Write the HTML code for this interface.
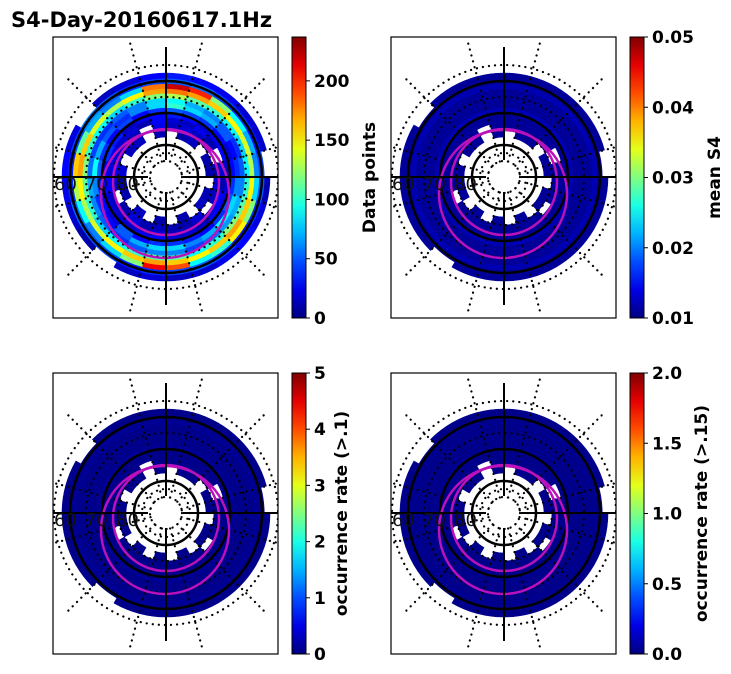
<!DOCTYPE html>
<html><head><meta charset="utf-8">
<style>
html,body{margin:0;padding:0;background:#fff;}
svg{display:block;font-family:"DejaVu Sans","Liberation Sans",sans-serif;}
.tk{font-size:17px;font-weight:bold;fill:#000;}
.cl{font-size:17px;font-weight:bold;fill:#000;}
</style></head>
<body>
<svg id="fig" width="731" height="674" viewBox="0 0 731 674">
<text x="11" y="27" font-size="21" font-weight="bold">S4-Day-20160617.1Hz</text>
</svg>
<script>
// latitude bin edges (degrees), outer to inner rings
const latEdges = [57.5,59.3,61,62.5,64,65.5,67,68.5,70,71.5,73,75,77.5];
// 24 MLT bins per ring: data point counts (null = no data)
const counts0 = [20,15,null,10,18,25,30,22,null,15,20,28,35,30,25,20,18,null,12,22,30,25,18,15];
const counts1 = [40,35,45,50,55,40,35,45,60,50,40,45,50,55,45,40,35,45,50,40,35,45,50,45];
const counts2 = [210,120,80,60,90,130,160,110,70,60,80,180,220,200,120,90,70,60,80,120,150,100,90,190];
const counts3 = [170,160,150,140,130,150,170,160,140,130,150,170,180,170,160,150,140,130,150,160,170,160,150,160];
const counts4 = [110,100,90,80,100,110,120,100,90,80,100,120,130,110,100,90,80,90,100,110,120,100,90,110];
const counts5 = [60,50,40,50,60,70,55,45,40,50,60,80,90,70,60,50,40,50,60,70,65,55,45,60];
const counts6 = [80,70,50,30,40,60,90,70,50,40,60,80,100,80,70,50,30,40,60,80,90,70,60,80];
const counts7 = [40,30,50,20,30,40,50,40,30,45,30,40,50,45,40,30,20,30,40,50,40,30,35,40];
const counts8 = [30,25,15,20,20,30,25,40,35,15,25,30,35,30,20,25,30,15,20,25,30,15,20,20];
const counts9 = [20,10,25,15,15,30,20,25,18,20,10,30,20,15,25,12,null,20,10,30,20,10,15,15];
const counts10 = [15,12,20,10,null,15,25,18,20,14,null,25,15,20,16,10,null,12,20,15,null,20,10,12];
const counts11 = [10,null,15,null,10,12,20,null,14,15,null,12,null,10,15,null,10,10,null,12,15,null,10,null];
const countRings = [counts0,counts1,counts2,counts3,counts4,counts5,counts6,counts7,counts8,counts9,counts10,counts11];
// per-ring mean values for other panels
const meanS4Rings = [0.011,0.011,0.012,0.011,0.011,0.011,0.011,0.012,0.011,0.011,0.011,0.011];
const occ1Rings = [0.05,0.05,0.1,0.05,0.05,0.05,0.05,0.1,0.05,0.05,0.05,0.05];
const occ15Rings = [0.02,0.02,0.03,0.02,0.02,0.02,0.02,0.03,0.02,0.02,0.02,0.02];
// colorbar ticks
const ticks1 = [0,50,100,150,200];
const ticks2 = ["0.01","0.02","0.03","0.04","0.05"];
const ticks3 = [0,1,2,3,4,5];
const ticks4 = ["0.0","0.5","1.0","1.5","2.0"];

const NS="http://www.w3.org/2000/svg";
const fig=document.getElementById('fig');
function el(tag,attrs,parent){const e=document.createElementNS(NS,tag);for(const k in attrs)e.setAttribute(k,attrs[k]);(parent||fig).appendChild(e);return e;}

function jet(t){t=Math.max(0,Math.min(1,t));
  const f=x=>Math.max(0,Math.min(1,x));
  const r=f(1.5-Math.abs(4*t-3)), g=f(1.5-Math.abs(4*t-2)), b=f(1.5-Math.abs(4*t-1));
  return `rgb(${Math.round(r*255)},${Math.round(g*255)},${Math.round(b*255)})`;}

const PXDEG=3.2;
function rOf(lat){return (90-lat)*PXDEG;}
const DOT={stroke:'#000','stroke-width':2.2,'stroke-dasharray':'0.1 6','stroke-linecap':'round',fill:'none'};

function panel(name,bx,by,ringVals,useCounts,vmin,vmax,ticks,cbLabel,labelX){
  const W=225,H=281,cx=bx+113,cy=by+140;
  const g=el('g',{},fig);
  
  
  const cid='clip-'+name;
  const cp=el('clipPath',{id:cid},g);el('rect',{x:bx,y:by,width:W,height:H},cp);
  const inner=el('g',{'clip-path':`url(#${cid})`},g);
  for(let i=0;i<countRings.length;i++){
    const r1=rOf(latEdges[i]), r0=rOf(latEdges[i+1]);
    for(let j=0;j<24;j++){
      const c=countRings[i][j]; if(c===null) continue;
      const v=useCounts?c:ringVals[i];
      const a0=(j/24)*2*Math.PI+Math.PI/2, a1=((j+1)/24)*2*Math.PI+Math.PI/2;
      const p=(r,a)=>`${(cx+r*Math.cos(a)).toFixed(2)},${(cy+r*Math.sin(a)).toFixed(2)}`;
      const d=`M${p(r0,a0)}L${p(r1,a0)}A${r1},${r1} 0 0 1 ${p(r1,a1)}L${p(r0,a1)}A${r0},${r0} 0 0 0 ${p(r0,a0)}Z`;
      const col=jet((v-vmin)/(vmax-vmin));
      const cell=el('path',{d:d,fill:col,stroke:col,'stroke-width':0.6},inner);
      
      
    }
  }
  [16,24,48,80,112].forEach(r=>el('circle',Object.assign({cx:cx,cy:cy,r:r},DOT),inner));
  for(let k=0;k<12;k++){const a=k*Math.PI/6+Math.PI/12;
    el('line',Object.assign({x1:cx+16*Math.cos(a),y1:cy+16*Math.sin(a),x2:cx+140*Math.cos(a),y2:cy+140*Math.sin(a)},DOT),inner);}
  [32,64,96].forEach(r=>el('circle',{cx:cx,cy:cy,r:r,fill:'none',stroke:'#000','stroke-width':2.5},inner));
  el('circle',{cx:cx,cy:cy+5,r:53,fill:'none',stroke:'#bb11bb','stroke-width':2.5},inner);
  el('circle',{cx:cx-1,cy:cy+17,r:64,fill:'none',stroke:'#bb11bb','stroke-width':2.5},inner);
  el('line',{x1:cx,y1:by+10,x2:cx,y2:cy-17,stroke:'#000','stroke-width':2},inner);
  el('line',{x1:cx,y1:cy+15,x2:cx,y2:by+H-13,stroke:'#000','stroke-width':2},inner);
  el('line',{x1:bx,y1:cy,x2:cx-18,y2:cy,stroke:'#000','stroke-width':2},inner);
  el('line',{x1:cx+17,y1:cy,x2:bx+W,y2:cy,stroke:'#000','stroke-width':2},inner);
  [['60',bx+1],['70',bx+32],['80',bx+63]].forEach(([t,x])=>{const tt=el('text',{x:x,y:cy+13,'font-size':18,fill:'#111'},inner);tt.textContent=t;});
  el('rect',{x:bx,y:by,width:W,height:H,fill:'none',stroke:'#000','stroke-width':1.2},g);
  const cbx=bx+239,cbw=14;
  const gid='grad-'+name;
  const lg=el('linearGradient',{id:gid,x1:0,y1:1,x2:0,y2:0},g);
  for(let s=0;s<=10;s++)el('stop',{offset:s/10,'stop-color':jet(s/10)},lg);
  const cb=el('rect',{x:cbx,y:by,width:cbw,height:H,fill:`url(#${gid})`,stroke:'#000','stroke-width':1},g);
  
  
  ticks.forEach(t=>{const v=parseFloat(t);const y=by+H-(v-vmin)/(vmax-vmin)*H;
    el('line',{x1:cbx+cbw,y1:y,x2:cbx+cbw+4,y2:y,stroke:'#000','stroke-width':1},g);
    const tx=el('text',{x:cbx+cbw+8,y:y+6,class:'tk'},g);tx.textContent=String(t);
    
    });
  const lb=el('text',{x:labelX,y:by+H/2,class:'cl','text-anchor':'middle',transform:`rotate(-90 ${labelX} ${by+H/2})`},g);
  lb.textContent=cbLabel;
  
  
}
panel('panel-data-points',53,37,null,true,0,237,ticks1,'Data points',375);
panel('panel-mean-s4',391,37,meanS4Rings,false,0.01,0.05,ticks2,'mean S4',720);
panel('panel-occurrence-01',53,373,occ1Rings,false,0,5,ticks3,'occurrence rate (>.1)',347);
panel('panel-occurrence-015',391,373,occ15Rings,false,0,2,ticks4,'occurrence rate (>.15)',707);
</script>
</body></html>
